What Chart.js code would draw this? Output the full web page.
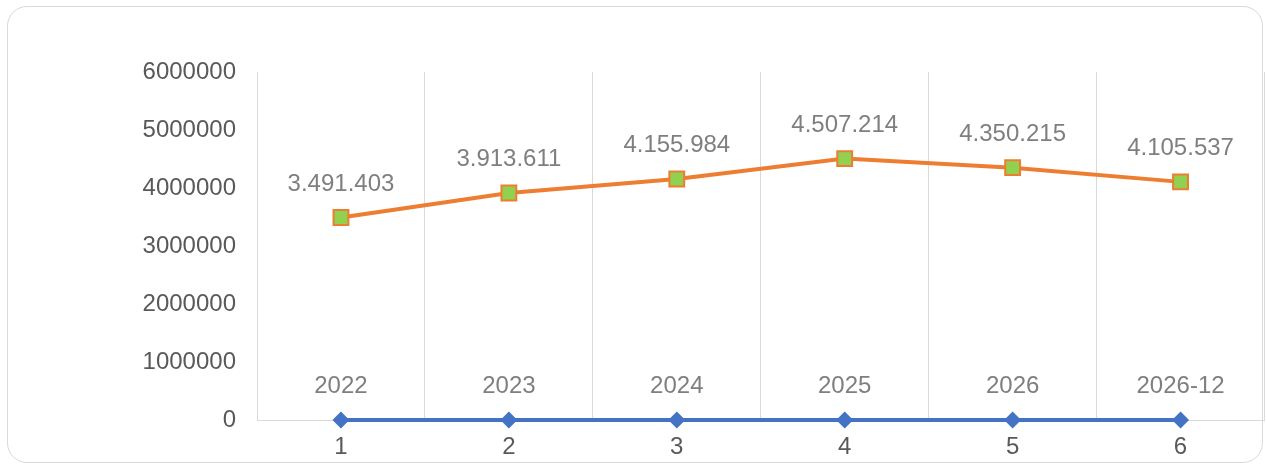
<!DOCTYPE html>
<html>
<head>
<meta charset="utf-8">
<script src="https://cdn.jsdelivr.net/npm/chart.js@4.4.1/dist/chart.umd.min.js"></script>
<style>
  html, body { margin: 0; padding: 0; background: #fff; overflow: hidden; }
  #frame {
    position: absolute; left: 7px; top: 6px;
    width: 1256px; height: 457px; box-sizing: border-box;
    border: 1px solid #d9d9d9; border-radius: 20px;
  }
  #chart { position: absolute; left: 0; top: 0; }
</style>
</head>
<body>
<div id="frame"></div>
<canvas id="chart" width="1277" height="465"></canvas>
<script>
const categories = ['1', '2', '3', '4', '5', '6'];
const totals = [3491403, 3913611, 4155984, 4507214, 4350215, 4105537];
const years = [0, 0, 0, 0, 0, 0];
const yearLabels = ['2022', '2023', '2024', '2025', '2026', '2026-12'];
const yTicks = [0, 1000000, 2000000, 3000000, 4000000, 5000000, 6000000];

const FONT = "'Liberation Sans', Arial, sans-serif";

// Tausenderpunkte, unabhängig von der Locale
function dots(v) {
    return String(v).replace(/\B(?=(\d{3})+(?!\d))/g, '.');
}

const pointLabels = {
    id: 'pointLabels',
    afterDatasetsDraw(chart) {
        const ctx = chart.ctx;
        ctx.save();
        ctx.font = '24px ' + FONT;
        ctx.fillStyle = '#7f7f7f';
        ctx.textAlign = 'center';
        ctx.textBaseline = 'middle';
        chart.data.datasets.forEach((ds, i) => {
            chart.getDatasetMeta(i).data.forEach((pt, j) => {
                const text = ds.labels ? ds.labels[j] : dots(ds.data[j]);
                ctx.fillText(text, pt.x, pt.y - 33.5);
            });
        });
        ctx.restore();
    }
};

const ctx = document.getElementById('chart');

new Chart(ctx, {
    type: 'line',
    data: {
        labels: categories,
        datasets: [
            {
                label: 'Jahr',
                data: years,
                labels: yearLabels,
                borderColor: '#4472c4',
                backgroundColor: '#4472c4',
                borderWidth: 4,
                pointStyle: 'rectRot',
                pointRadius: 8.5,
                pointBorderWidth: 0,
                clip: false
            },
            {
                label: 'Summe',
                data: totals,
                borderColor: '#ed7d31',
                backgroundColor: '#92d050',
                borderWidth: 4,
                pointStyle: 'rect',
                pointRadius: 10.5,
                pointBorderColor: '#ed7d31',
                pointBorderWidth: 2,
                clip: false
            }
        ]
    },
    options: {
        responsive: false,
        animation: false,
        events: [],
        layout: { padding: { top: 72, right: 0, bottom: 0, left: 0 } },
        plugins: {
            legend: { display: false },
            tooltip: { enabled: false }
        },
        scales: {
            x: {
                offset: true,
                grid: { display: true, offset: true, color: '#d9d9d9', drawTicks: false },
                border: { display: true, color: '#d9d9d9' },
                ticks: { color: '#595959', font: { family: FONT, size: 24 }, padding: 13 },
                afterFit(scale) { scale.height = 45; }
            },
            y: {
                min: 0,
                max: 6000000,
                afterBuildTicks(scale) { scale.ticks = yTicks.map(v => ({ value: v })); },
                grid: { display: false, drawTicks: false },
                border: { display: true, color: '#d9d9d9' },
                ticks: {
                    color: '#595959',
                    font: { family: FONT, size: 24 },
                    padding: 21,
                    callback: v => String(v)
                },
                afterFit(scale) { scale.width = 257; }
            }
        }
    },
    plugins: [pointLabels]
});
</script>
</body>
</html>
